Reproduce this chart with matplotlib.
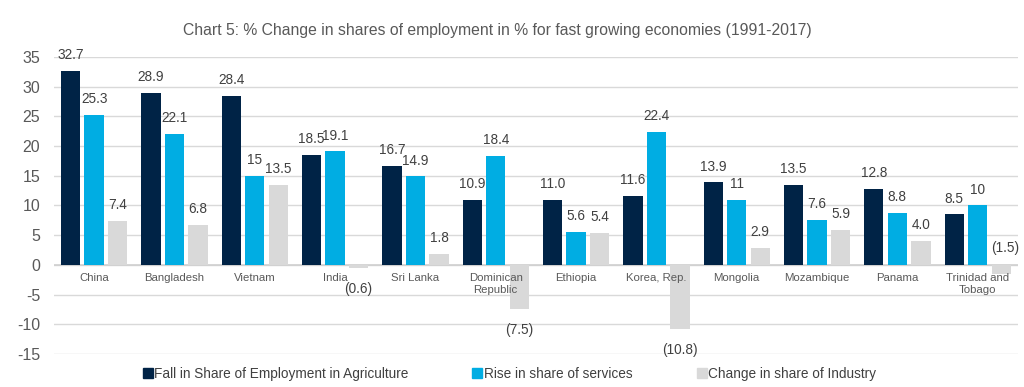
import matplotlib
matplotlib.use("Agg")
import matplotlib.pyplot as plt
from matplotlib.lines import Line2D
import numpy as np

plt.rcParams['font.family'] = ['Liberation Sans', 'DejaVu Sans']
plt.rcParams['axes.unicode_minus'] = False

countries = ["China", "Bangladesh", "Vietnam", "India", "Sri Lanka", "Dominican\nRepublic",
             "Ethiopia", "Korea, Rep.", "Mongolia", "Mozambique", "Panama", "Trinidad and\nTobago"]
agriculture = [32.7, 28.9, 28.4, 18.5, 16.7, 10.9, 11.0, 11.6, 13.9, 13.5, 12.8, 8.5]
services = [25.3, 22.1, 15, 19.1, 14.9, 18.4, 5.6, 22.4, 11, 7.6, 8.8, 10]
industry = [7.4, 6.8, 13.5, -0.6, 1.8, -7.5, 5.4, -10.8, 2.9, 5.9, 4.0, -1.5]
series_names = ["Fall in Share of Employment in Agriculture", "Rise in share of services",
                "Change in share of Industry"]
colors = ["#002346", "#00ADE3", "#D9D9D9"]
yticks = [35, 30, 25, 20, 15, 10, 5, 0, -5, -10, -15]

def fmt_one(v):
    return f"({abs(v):.1f})" if v < 0 else f"{v:.1f}"

def fmt_gen(v):
    return f"{v:g}"

fig = plt.figure(figsize=(10.24, 3.87), dpi=100)
ax = fig.add_axes([0.0527, 0.0853, 0.9413, 0.7674])

x = np.arange(len(countries))
w = 0.24
off = 0.293
series = [agriculture, services, industry]
fmts = [fmt_one, fmt_gen, fmt_one]
tc = "#404040"
for k, (vals, c, f) in enumerate(zip(series, colors, fmts)):
    xs = x + (k - 1) * off
    ax.bar(xs, vals, width=w, color=c, zorder=3, label=series_names[k])
    for i, (xi, v) in enumerate(zip(xs, vals)):
        txt = f(v)
        if k == 2 and i == len(vals) - 1:
            ax.annotate(txt, (xi, 0), xytext=(3, 7), textcoords="offset points",
                        ha="center", va="bottom", fontsize=9.8, color=tc, zorder=4)
        elif v >= 0:
            ax.annotate(txt, (xi, v), xytext=(0, 8.5), textcoords="offset points",
                        ha="center", va="baseline", fontsize=9.8, color=tc, zorder=4)
        else:
            ax.annotate(txt, (xi, v), xytext=(0, -10), textcoords="offset points",
                        ha="center", va="top", fontsize=9.8, color=tc, zorder=4)

# category labels just below zero line
for xi, name in zip(x, countries):
    ax.annotate(name, (xi, 0), xytext=(0, -5.5), textcoords="offset points",
                ha="center", va="top", fontsize=8.2, color="#595959", linespacing=1.25, zorder=4)

ax.set_xlim(-0.5, len(countries) - 0.5)
ax.set_ylim(-15, 35)
ax.set_yticks(yticks)
ax.tick_params(axis="y", length=0, labelsize=11.5, labelcolor="#595959", pad=10)
ax.set_xticks([])
ax.yaxis.grid(True, color="#D9D9D9", linewidth=1, zorder=0)
ax.axhline(0, color="#D0D0D0", linewidth=1.2, zorder=2)
for s in ax.spines.values():
    s.set_visible(False)

fig.text(0.486, 0.922, "Chart 5: % Change in shares of employment in % for fast growing economies (1991-2017)",
         ha="center", va="center", fontsize=11.3, color="#595959")

handles = [Line2D([0], [0], marker="s", linestyle="none", markersize=6.5,
                  markerfacecolor=c, markeredgecolor=c) for c in colors]
fig.legend(handles, series_names, loc="center", bbox_to_anchor=(0.497, 0.034), ncol=3,
           frameon=False, fontsize=9.8, labelcolor="#404040", handletextpad=0.05,
           columnspacing=4.7, handlelength=0.8)

fig.savefig("out.png", dpi=100)
